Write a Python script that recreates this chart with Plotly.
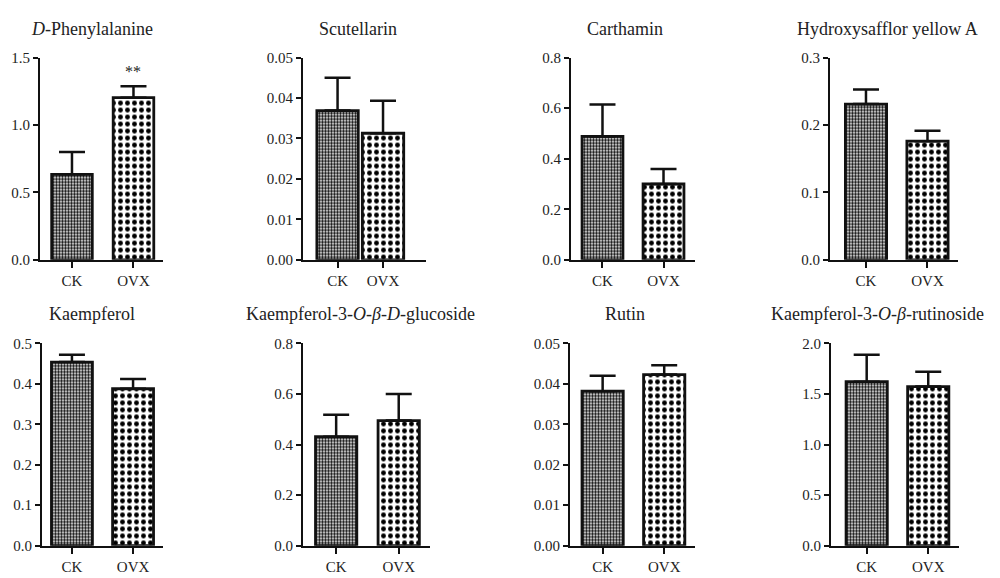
import plotly.graph_objects as go

W, H = 1000, 578

# ---------------- data ----------------
groups = ["CK", "OVX"]
titles = [
    "<i>D</i>-Phenylalanine",
    "Scutellarin",
    "Carthamin",
    "Hydroxysafflor yellow A",
    "Kaempferol",
    "Kaempferol-3-<i>O</i>-<i>β</i>-<i>D</i>-glucoside",
    "Rutin",
    "Kaempferol-3-<i>O</i>-<i>β</i>-rutinoside",
]
ck_mean = [0.634, 0.0369, 0.488, 0.231, 0.454, 0.431, 0.0382, 1.622]
ovx_mean = [1.203, 0.0313, 0.300, 0.176, 0.388, 0.495, 0.0423, 1.574]
ck_err = [0.166, 0.0081, 0.126, 0.0215, 0.018, 0.087, 0.0038, 0.266]
ovx_err = [0.084, 0.0080, 0.059, 0.0156, 0.024, 0.105, 0.0023, 0.147]
y_max = [1.5, 0.05, 0.8, 0.3, 0.5, 0.8, 0.05, 2.0]
y_dtick = [0.5, 0.01, 0.2, 0.1, 0.1, 0.2, 0.01, 0.5]
y_fmt = [".1f", ".2f", ".1f", ".1f", ".1f", ".1f", ".2f", ".1f"]
signif = ["", "**"]  # marker shown above OVX in panel 1

# ---------------- layout (pixels) ----------------
x_px = [(40, 163), (303, 426), (571, 695), (830, 958),
        (42, 163), (303, 430), (570, 695), (831, 959)]
x_rng = [(-0.52, 1.48), (-0.76, 1.945), (-0.516, 1.516), (-0.585, 1.496),
         (-0.49, 1.49), (-0.53, 1.5), (-0.53, 1.5), (-0.58, 1.5)]
bar_w = [0.66, 0.91, 0.67, 0.67, 0.67, 0.66, 0.67, 0.67]
y_px = [(51, 259)] * 4 + [(345, 553)] * 4
title_px = [(92, 22), (358, 22), (625, 22), (887, 22),
            (92, 315), (360, 315), (625, 315), (877, 315)]

FONT = "Liberation Serif, Times New Roman, serif"
TXT = "#222222"
LINE = "#111111"


def px_x(v):
    return v / W


def px_y(v):
    return 1 - v / H


fig = go.Figure()
annotations = []

styles = {0: dict(size=3, solidity=0.55), 1: dict(size=7, solidity=0.38)}

for i in range(8):
    n = "" if i == 0 else str(i + 1)
    xa, ya = "x" + n, "y" + n
    for g, mean, err in ((0, ck_mean, ck_err), (1, ovx_mean, ovx_err)):
        fig.add_trace(go.Bar(
            x=[groups[g]], y=[mean[i]], width=[bar_w[i]],
            xaxis=xa, yaxis=ya, showlegend=False,
            marker=dict(
                color="white",
                line=dict(color=LINE, width=2.8),
                pattern=dict(shape=".", fgcolor="black", bgcolor="white",
                             fillmode="replace", **styles[g]),
            ),
            error_y=dict(type="data", symmetric=False, array=[err[i]], arrayminus=[0],
                         color=LINE, thickness=2.5, width=13),
        ))
    lx = "xaxis" + n
    ly = "yaxis" + n
    fig.layout[lx] = dict(
        domain=[px_x(x_px[i][0]), px_x(x_px[i][1])],
        anchor=ya, type="category", categoryorder="array", categoryarray=groups,
        range=list(x_rng[i]), showline=True, linecolor=LINE, linewidth=2,
        ticks="outside", ticklen=6, tickwidth=2, tickcolor=LINE,
        showgrid=False, zeroline=False,
        tickfont=dict(family=FONT, size=15, color=TXT),
        fixedrange=True,
    )
    fig.layout[ly] = dict(
        domain=[px_y(y_px[i][1]), px_y(y_px[i][0])],
        anchor=xa, range=[0, y_max[i]], dtick=y_dtick[i], tick0=0,
        tickformat=y_fmt[i], showline=True, linecolor=LINE, linewidth=2,
        ticks="outside", ticklen=5, tickwidth=2, tickcolor=LINE,
        showgrid=False, zeroline=False,
        tickfont=dict(family=FONT, size=15, color=TXT),
        fixedrange=True,
    )
    annotations.append(dict(
        text=titles[i], xref="paper", yref="paper",
        x=px_x(title_px[i][0]), y=px_y(title_px[i][1]),
        xanchor="center", yanchor="middle", showarrow=False,
        font=dict(family=FONT, size=18, color=TXT),
    ))

annotations.append(dict(
    text=signif[1], xref="x", yref="y", x=groups[1],
    y=ovx_mean[0] + ovx_err[0], yanchor="bottom", yshift=4,
    showarrow=False, font=dict(family=FONT, size=16, color=TXT),
))

fig.update_layout(
    width=W, height=H, margin=dict(l=0, r=0, t=0, b=0),
    paper_bgcolor="white", plot_bgcolor="white",
    annotations=annotations, bargap=0.3,
)

fig.write_html("out.html")
